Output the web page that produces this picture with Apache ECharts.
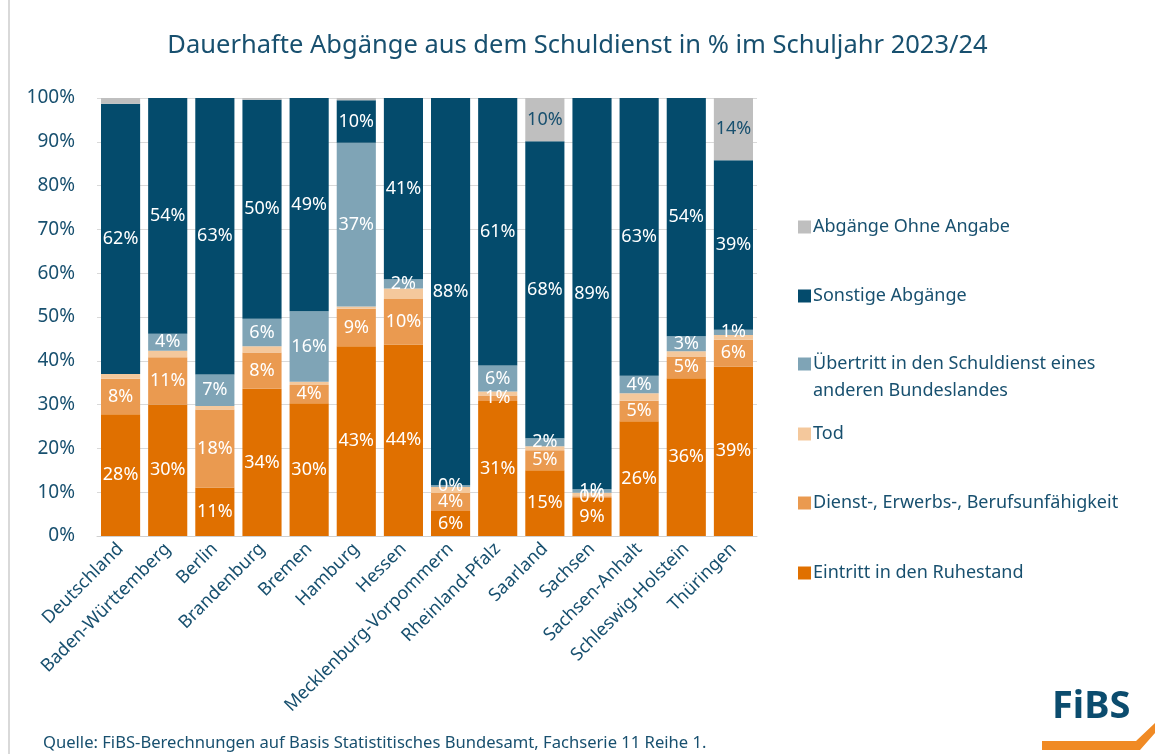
<!DOCTYPE html>
<html>
<head>
<meta charset="utf-8">
<script src="https://cdn.jsdelivr.net/npm/echarts@6/dist/echarts.min.js"></script>
<style>html,body{margin:0;padding:0;background:#fff}#c{width:1155px;height:754px}</style>
</head>
<body>
<div id="c"></div>
<script>
const categories = ['Deutschland','Baden-Württemberg','Berlin','Brandenburg','Bremen','Hamburg','Hessen','Mecklenburg-Vorpommern','Rheinland-Pfalz','Saarland','Sachsen','Sachsen-Anhalt','Schleswig-Holstein','Thüringen'];
const ruhestand  = [27.8, 30.0, 11.1, 33.6, 30.3, 43.3, 43.7, 5.7, 30.8, 15.0, 8.7, 26.2, 36.0, 38.7];
const dienst     = [8.1, 10.8, 17.8, 8.3, 4.2, 8.6, 10.4, 4.1, 1.3, 4.6, 0.4, 4.7, 5.0, 6.1];
const tod        = [1.1, 1.5, 0.8, 1.4, 0.7, 0.5, 2.4, 1.4, 0.9, 0.9, 0.8, 1.7, 1.2, 1.1];
const uebertritt = [null, 3.9, 7.2, 6.3, 16.1, 37.4, 2.1, 0.4, 5.9, 1.8, 0.8, 4.0, 3.4, 1.2];
const sonstige   = [61.7, 53.8, 63.1, 50.0, 48.7, 9.7, 41.4, 88.4, 61.1, 67.8, 89.3, 63.4, 54.4, 38.7];
const ohne       = [1.3, 0, 0, 0.4, 0, 0.5, 0, 0, 0, 9.9, 0, 0, 0, 14.2];
const yTicks = [0, 10, 20, 30, 40, 50, 60, 70, 80, 90, 100];

const TXT = '#18506f';
const FONT = 'Noto Sans';
const names = {
  ohne: 'Abgänge Ohne Angabe',
  sonstige: 'Sonstige Abgänge',
  uebertritt: 'Übertritt in den Schuldienst eines\nanderen Bundeslandes',
  tod: 'Tod',
  dienst: 'Dienst-, Erwerbs-, Berufsunfähigkeit',
  ruhestand: 'Eintritt in den Ruhestand'
};
const colors = {
  ruhestand: '#E07000', dienst: '#EA9A50', tod: '#F4C89C',
  uebertritt: '#7FA4B6', sonstige: '#044B6C', ohne: '#BFBFBF'
};
function pct(p){ return (p.value === null || p.value === undefined) ? '' : Math.round(p.value) + '%'; }
function mk(key, data, labelOpt){
  return {
    name: names[key], type: 'bar', stack: 'all', data: data,
    barCategoryGap: '17%',
    itemStyle: { color: colors[key] },
    label: Object.assign({ show: true, position: 'inside', color: '#fff', fontSize: 18, fontFamily: FONT, formatter: pct }, labelOpt || {})
  };
}
function leg(key, top, extra){
  return Object.assign({
    data: [names[key]], left: 798, top: top, orient: 'horizontal', padding: 0,
    itemWidth: 13, itemHeight: 13, icon: 'rect', selectedMode: false,
    textStyle: { color: TXT, fontSize: 18, fontFamily: FONT, lineHeight: 20, padding: [0,0,0,-3] }
  }, extra || {});
}
const chart = echarts.init(document.getElementById('c'));
chart.setOption({
  animation: false,
  textStyle: { fontFamily: FONT },
  title: { text: 'Dauerhafte Abgänge aus dem Schuldienst in % im Schuljahr 2023/24', left: 'center', top: 33, padding: 0,
    textStyle: { color: TXT, fontSize: 25.5, fontWeight: 'normal', fontFamily: FONT } },
  grid: { left: 97, right: 398, top: 98, bottom: 218 },
  xAxis: { type: 'category', data: categories,
    axisLine: { lineStyle: { color: '#d0d0d0', width: 1 } }, axisTick: { show: false },
    axisLabel: { rotate: 45, interval: 0, color: TXT, fontSize: 18, fontFamily: FONT, margin: 10 } },
  yAxis: { type: 'value', min: 0, max: 100, interval: 10,
    axisLine: { show: false }, axisTick: { show: false },
    splitLine: { lineStyle: { color: '#d9d9d9' } },
    axisLabel: { color: TXT, fontSize: 19, fontFamily: FONT, margin: 22, formatter: v => yTicks.includes(v) ? v + '%' : '' } },
  legend: [
    leg('ohne', 217), leg('sonstige', 286),
    leg('uebertritt', 323.5, { formatter: n => '\n' + n, textStyle: { color: TXT, fontSize: 18, fontFamily: FONT, lineHeight: 27, padding: [0,0,0,-3] } }),
    leg('tod', 424), leg('dienst', 493), leg('ruhestand', 563)
  ],
  series: [
    mk('ruhestand', ruhestand),
    mk('dienst', dienst),
    mk('tod', tod, { show: false }),
    mk('uebertritt', uebertritt),
    mk('sonstige', sonstige),
    mk('ohne', ohne, { color: '#18506f', formatter: p => p.value >= 5 ? Math.round(p.value) + '%' : '' })
  ],
  graphic: [
    { type: 'line', shape: { x1: 9, y1: 0, x2: 9, y2: 754 }, style: { stroke: '#d9d9d9', lineWidth: 2 } },
    { type: 'text', left: 43, top: 735, style: { text: 'Quelle: FiBS-Berechnungen auf Basis Statistitisches Bundesamt, Fachserie 11 Reihe 1.', fill: TXT, fontSize: 16.6, fontFamily: FONT } },
    { type: 'text', left: 1052, top: 688, style: { text: 'FiBS', fill: '#0B4C6E', fontSize: 38, fontWeight: 'bold', fontFamily: FONT } },
    { type: 'polygon', shape: { points: [[1042,741],[1136,741],[1155,723],[1155,733],[1140,750],[1042,750]] }, style: { fill: '#F08A24' } }
  ]
});
</script>
</body>
</html>
